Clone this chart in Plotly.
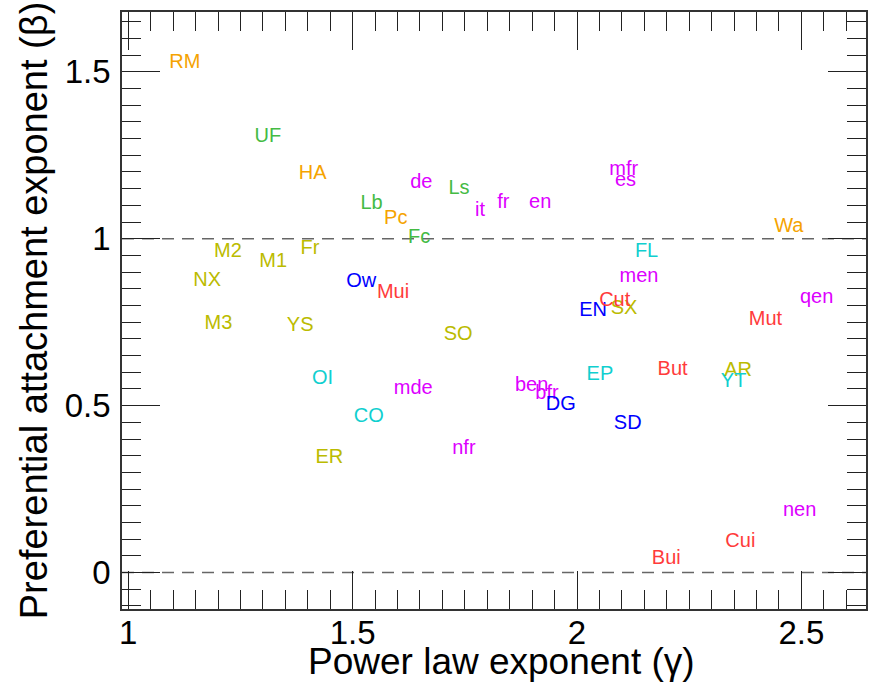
import plotly.graph_objects as go

# Data (label centre positions)
labels = ["RM", "HA", "Pc", "Wa",
          "UF", "Lb", "Ls", "Fc",
          "de", "it", "fr", "en", "mfr", "es", "men", "qen", "mde", "ben", "bfr", "nfr", "nen",
          "M2", "M1", "Fr", "NX", "M3", "YS", "SO", "ER", "SX", "AR",
          "Ow", "EN", "DG", "SD",
          "Mui", "Cut", "Mut", "But", "Cui", "Bui",
          "FL", "OI", "CO", "EP", "YT"]
gamma = [1.126, 1.411, 1.596, 2.472,
         1.311, 1.542, 1.737, 1.648,
         1.653, 1.784, 1.836, 1.918, 2.104, 2.108, 2.138, 2.534, 1.635, 1.899, 1.933, 1.748, 2.496,
         1.222, 1.323, 1.405, 1.176, 1.201, 1.383, 1.735, 1.448, 2.105, 2.359,
         1.519, 2.036, 1.964, 2.113,
         1.590, 2.084, 2.420, 2.213, 2.364, 2.199,
         2.155, 1.433, 1.536, 2.051, 2.349]
beta = [1.526, 1.193, 1.058, 1.035,
        1.305, 1.103, 1.150, 1.002,
        1.168, 1.083, 1.108, 1.108, 1.205, 1.173, 0.885, 0.822, 0.550, 0.559, 0.536, 0.369, 0.185,
        0.960, 0.929, 0.968, 0.873, 0.746, 0.738, 0.711, 0.344, 0.791, 0.603,
        0.870, 0.784, 0.501, 0.445,
        0.838, 0.813, 0.758, 0.608, 0.092, 0.040,
        0.959, 0.581, 0.466, 0.591, 0.571]
groups = ["orange"] * 4 + ["green"] * 4 + ["magenta"] * 13 + ["olive"] * 10 + \
         ["blue"] * 4 + ["red"] * 6 + ["cyan"] * 5

group_colors = {"orange": "#F5A300", "green": "#44BB44", "magenta": "#DD00FF",
                "olive": "#BBBB00", "blue": "#0000FF", "red": "#FF3B3B", "cyan": "#10CFCF"}

FONT = "Liberation Sans, Arial, Helvetica, sans-serif"

fig = go.Figure()
for g, col in group_colors.items():
    idx = [i for i, gg in enumerate(groups) if gg == g]
    fig.add_trace(go.Scatter(
        x=[gamma[i] for i in idx], y=[beta[i] for i in idx],
        text=[labels[i] for i in idx], mode="text", textposition="middle center",
        textfont=dict(family=FONT, size=20, color=col),
        name=g, showlegend=False, hoverinfo="text+x+y"))

for yv in [0, 1]:
    fig.add_shape(type="line", xref="paper", yref="y", x0=0, x1=1, y0=yv, y1=yv,
                  line=dict(color="#666666", width=1.5, dash="12px,8px"), layer="below")

axis_common = dict(ticks="inside", mirror="allticks", showline=True, linecolor="#333333",
                   linewidth=1.5, tickcolor="#222222", tickwidth=1, ticklen=38,
                   showgrid=False, zeroline=False,
                   tickfont=dict(family=FONT, size=33, color="black"))

fig.update_xaxes(range=[0.986, 2.644], tickvals=[1, 1.5, 2, 2.5], ticktext=["1", "1.5", "2", "2.5"],
                 minor=dict(ticks="inside", ticklen=19, dtick=0.05, tick0=1, tickcolor="#222222",
                            tickwidth=1, showgrid=False),
                 ticklabelstandoff=-6, **axis_common)
fig.update_yaxes(range=[-0.109, 1.679], tickvals=[0, 0.5, 1, 1.5], ticktext=["0", "0.5", "1", "1.5"],
                 minor=dict(ticks="inside", ticklen=19, dtick=0.05, tick0=0, tickcolor="#222222",
                            tickwidth=1, showgrid=False),
                 ticklabelstandoff=3, **axis_common)

fig.add_annotation(text="Power law exponent (\u03b3)", xref="paper", yref="paper",
                   x=(503 - 122) / 746, y=-(662 - 609) / 597, xanchor="center", yanchor="middle",
                   showarrow=False, font=dict(family=FONT, size=37, color="black"))
fig.add_annotation(text="Preferential attachment exponent (\u03b2)", xref="paper", yref="paper",
                   x=-(122 - 34) / 746, y=(609 - 310) / 597, xanchor="center", yanchor="middle",
                   textangle=-90, showarrow=False, font=dict(family=FONT, size=38, color="black"))

fig.update_layout(width=869, height=694, margin=dict(l=122, r=1, t=12, b=85),
                  plot_bgcolor="white", paper_bgcolor="white")

fig.write_html("out.html")
